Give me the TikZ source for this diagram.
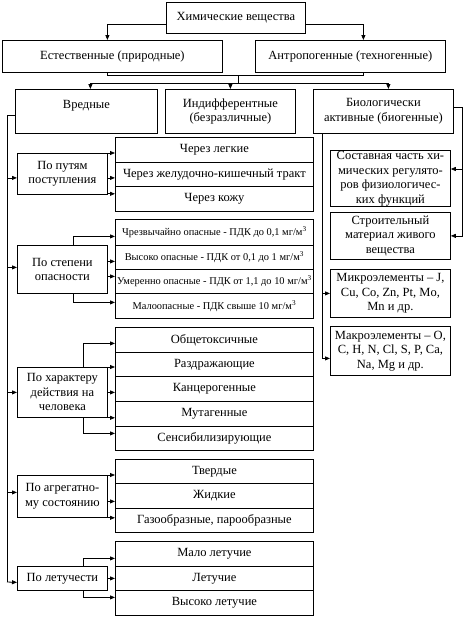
\documentclass[tikz,border=0pt]{standalone}
\usepackage{fontspec}
\setmainfont{Liberation Serif}
\usetikzlibrary{arrows.meta,calc}
\newcommand\fs{\fontsize{12.5}{14.5}\selectfont}
\newcommand\fss{\fontsize{10.4}{12}\selectfont}
\newcommand\bx[7][]{\node[box,#1, minimum width={#5pt-#3pt}, minimum height={#6pt-#4pt}] (#2) at (#3,#4) {#7};}
\newcommand\harr[3]{\path ([yshift=#2]#1.east) coordinate (tmp); \draw[arr] (tmp) -- (tmp -| #3.west);}
\begin{document}
\begin{tikzpicture}[x=1pt,y=-1pt,
  box/.style={draw, line width=0.8pt, inner sep=1pt, align=center, anchor=north west, font=\fs},
  arr/.style={-{Triangle[length=5pt,width=4pt]}, line width=0.8pt},
  ln/.style={line width=0.8pt}]
\useasboundingbox[fill=white] (0,0) rectangle (466,619);
% top levels
\bx{top}{166}{2}{305}{33}{Химические вещества}
\bx{nat}{2}{40}{222}{72}{Естественные (природные)}
\bx{anth}{255}{40}{445}{72}{Антропогенные (техногенные)}
\bx{harm}{15}{89}{157}{133}{Вредные\\\mbox{}}
\bx{indiff}{165}{89}{295}{133}{Индифферентные\\(безразличные)}
\bx{bio}{313}{89}{453}{133}{Биологически\\активные (биогенные)}
\draw[arr] ([yshift=-6.5pt]top.west) -| ([xshift=-5pt]nat.north);
\draw[arr] ([yshift=-6.5pt]top.east) -| ([xshift=13pt]anth.north);
\draw[ln] ([xshift=-5pt]nat.south) -- ++(0,3) -| ([xshift=13pt]anth.south);
\coordinate (j1) at (238,75);
\coordinate (j2) at (238,83);
\draw[ln] (j1) -- (j2);
\draw[arr] (j2) -| ([xshift=4pt]harm.north);
\draw[arr] (j2) -| (indiff.north);
\draw[arr] (j2) -| ([xshift=5pt]bio.north);
% group 1
\bx{p1}{17}{153}{107}{194}{По путям\\поступления}
\bx{l11}{115}{137}{313}{162}{Через легкие}
\bx{l12}{115}{162}{313}{186}{Через желудочно-кишечный тракт}
\bx{l13}{115}{186}{313}{211}{Через кожу}
\draw[arr] (p1.north east) -- (p1.north east -| l11.west);
\harr{p1}{-4pt}{l12}
\draw[arr] ([yshift=1pt]p1.south east) coordinate (tmp) -- (tmp -| l13.west);
% group 2
\bx{p2}{17}{245}{107}{293}{По степени\\опасности}
\bx[font=\fss]{l21}{115}{219}{313}{245}{Чрезвычайно опасные - ПДК до 0,1 мг/м\textsuperscript{3}}
\bx[font=\fss]{l22}{115}{245}{313}{269}{Высоко опасные - ПДК от 0,1 до 1 мг/м\textsuperscript{3}}
\bx[font=\fss]{l23}{115}{269}{313}{293}{Умеренно опасные - ПДК от 1,1 до 10 мг/м\textsuperscript{3}}
\bx[font=\fss]{l24}{115}{293}{313}{318}{Малоопасные - ПДК свыше 10 мг/м\textsuperscript{3}}
\draw[arr] ([xshift=56pt]p2.north west) |- ([yshift=-4pt]l21.west);
\harr{p2}{8pt}{l22}
\harr{p2}{-7pt}{l23}
\draw[arr] ([xshift=56pt]p2.south west) |- ([yshift=3.5pt]l24.west);
% group 3
\bx{p3}{17}{367}{107}{417}{По характеру\\действия на\\человека}
\bx{l31}{115}{327}{313}{352}{Общетоксичные}
\bx{l32}{115}{352}{313}{376}{Раздражающие}
\bx{l33}{115}{376}{313}{401}{Канцерогенные}
\bx{l34}{115}{401}{313}{426}{Мутагенные}
\bx{l35}{115}{426}{313}{450}{Сенсибилизирующие}
\draw[arr] ([xshift=66pt]p3.north west) |- ([yshift=-3.5pt]l31.west);
\draw[arr] (p3.north east) -- (p3.north east -| l32.west);
\harr{p3}{0pt}{l33}
\draw[arr] (p3.south east) -- (p3.south east -| l34.west);
\draw[arr] ([xshift=66pt]p3.south west) |- ([yshift=5pt]l35.west);
% group 4
\bx{p4}{17}{475}{107}{517}{По агрегатно-\\му состоянию}
\bx{l41}{115}{459}{313}{483}{Твердые}
\bx{l42}{115}{483}{313}{508}{Жидкие}
\bx{l43}{115}{508}{313}{532}{Газообразные, парообразные}
\draw[arr] (p4.north east) -- (p4.north east -| l41.west);
\harr{p4}{-5pt}{l42}
\draw[arr] (p4.south east) -- (p4.south east -| l43.west);
% group 5
\bx{p5}{17}{566}{107}{590}{По летучести}
\bx{l51}{115}{541}{313}{566}{Мало летучие}
\bx{l52}{115}{566}{313}{590}{Летучие}
\bx{l53}{115}{590}{313}{615}{Высоко летучие}
\draw[arr] ([xshift=66pt]p5.north west) |- ([yshift=-4.5pt]l51.west);
\harr{p5}{0pt}{l52}
\draw[arr] ([xshift=66pt]p5.south west) |- ([yshift=5.5pt]l53.west);
% left bus
\coordinate (bus) at (7,582);
\draw[ln] ([yshift=-4pt]harm.west) -| (bus);
\path ([yshift=-4pt]p1.west) coordinate (b1);
\draw[arr] (b1 -| bus) -- (b1);
\path ([yshift=2pt]p2.west) coordinate (b2);
\draw[arr] (b2 -| bus) -- (b2);
\draw[arr] (p3.west -| bus) -- (p3.west);
\path ([yshift=4pt]p4.west) coordinate (b4);
\draw[arr] (b4 -| bus) -- (b4);
\path ([yshift=-4pt]p5.west) coordinate (b5);
\draw[arr] (bus) -- (b5);
% right column
\bx{r1}{330}{150}{450}{202}{Составная часть хи-\\мических регулято-\\ров физиологичес-\\ких функций}
\bx{r2}{330}{212}{450}{259}{Строительный\\материал живого\\вещества}
\bx{r3}{330}{269}{450}{317}{Микроэлементы – J,\\Cu, Co, Zn, Pt, Mo,\\Mn и др.}
\bx{r4}{330}{326}{450}{375}{Макроэлементы – O,\\C, H, N, Cl, S, P, Ca,\\Na, Mg и др.}
\draw[arr] ([yshift=4pt]bio.east) -- ++(9,0) |- (r2.east);
\coordinate (rb) at (462,169);
\draw[arr] (rb) -- (rb -| r1.east);
\draw[arr] ([xshift=9pt]bio.south west) |- ([yshift=-7.5pt]r4.west);
\coordinate (lb) at (322,0);
\draw[arr] (r3.west -| lb) -- (r3.west);
\end{tikzpicture}
\end{document}
